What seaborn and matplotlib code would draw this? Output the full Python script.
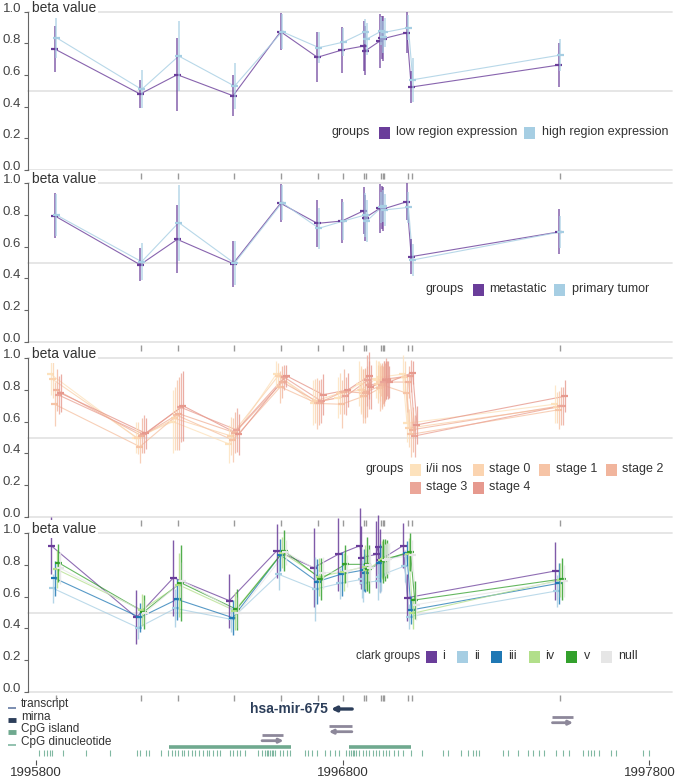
import numpy as np
import pandas as pd
import matplotlib
matplotlib.use("Agg")
import matplotlib.pyplot as plt
import seaborn as sns
from matplotlib.patches import Rectangle

W, H = 676, 780

# genomic positions of the probes (bp)
probe_pos = [1995864, 1996142, 1996263, 1996445, 1996600, 1996720, 1996800, 1996871,
             1996876, 1996924, 1996930, 1996935, 1997012, 1997026, 1997507]

# panel 1: region expression
expr_groups = ["low region expression", "high region expression"]
expr_mean = {
    "low region expression": [0.764, 0.48, 0.602, 0.469, 0.874, 0.712, 0.758, 0.783, 0.752, 0.815, 0.836, 0.83, 0.867, 0.524, 0.663],
    "high region expression": [0.836, 0.509, 0.72, 0.53, 0.874, 0.773, 0.808, 0.874, 0.827, 0.878, 0.842, 0.87, 0.899, 0.57, 0.726],
}
expr_sd = {
    "low region expression": [0.146, 0.09, 0.232, 0.128, 0.115, 0.158, 0.148, 0.158, 0.155, 0.168, 0.136, 0.14, 0.13, 0.1, 0.137],
    "high region expression": [0.126, 0.12, 0.22, 0.145, 0.11, 0.1, 0.09, 0.08, 0.1, 0.09, 0.1, 0.09, 0.08, 0.14, 0.1],
}

# panel 2: sample type
type_groups = ["metastatic", "primary tumor"]
type_mean = {
    "metastatic": [0.794, 0.486, 0.646, 0.493, 0.874, 0.747, 0.762, 0.827, 0.783, 0.842, 0.846, 0.838, 0.884, 0.537, 0.693],
    "primary tumor": [0.8, 0.505, 0.752, 0.495, 0.878, 0.716, 0.762, 0.8, 0.762, 0.848, 0.857, 0.832, 0.848, 0.516, 0.693],
}
type_sd = {
    "metastatic": [0.142, 0.103, 0.214, 0.145, 0.12, 0.15, 0.14, 0.148, 0.145, 0.155, 0.137, 0.14, 0.116, 0.11, 0.142],
    "primary tumor": [0.13, 0.115, 0.24, 0.14, 0.11, 0.13, 0.12, 0.14, 0.135, 0.1, 0.1, 0.1, 0.1, 0.1, 0.1],
}

# panel 3: stage
stage_groups = ["i/ii nos", "stage 0", "stage 1", "stage 2", "stage 3", "stage 4"]
stage_mean = {
    "i/ii nos": [0.9, 0.5, 0.6, 0.46, 0.9, 0.72, 0.75, 0.84, 0.8, 0.87, 0.86, 0.88, 0.9, 0.59, 0.71],
    "stage 0": [0.867, 0.495, 0.62, 0.51, 0.89, 0.73, 0.78, 0.8, 0.78, 0.84, 0.85, 0.86, 0.88, 0.56, 0.69],
    "stage 1": [0.71, 0.442, 0.64, 0.484, 0.82, 0.715, 0.71, 0.76, 0.76, 0.81, 0.82, 0.83, 0.78, 0.52, 0.675],
    "stage 2": [0.8, 0.51, 0.65, 0.53, 0.85, 0.72, 0.79, 0.78, 0.79, 0.83, 0.84, 0.85, 0.85, 0.55, 0.7],
    "stage 3": [0.768, 0.52, 0.69, 0.547, 0.88, 0.73, 0.76, 0.86, 0.83, 0.85, 0.87, 0.87, 0.89, 0.51, 0.7],
    "stage 4": [0.78, 0.526, 0.7, 0.52, 0.89, 0.77, 0.8, 0.89, 0.82, 0.86, 0.86, 0.85, 0.91, 0.58, 0.76],
}
stage_sd = {
    "i/ii nos": [0.13, 0.1, 0.2, 0.12, 0.08, 0.14, 0.13, 0.14, 0.14, 0.12, 0.12, 0.1, 0.12, 0.12, 0.12],
    "stage 0": [0.12, 0.1, 0.2, 0.12, 0.08, 0.14, 0.13, 0.15, 0.15, 0.12, 0.12, 0.1, 0.1, 0.12, 0.1],
    "stage 1": [0.14, 0.1, 0.22, 0.14, 0.1, 0.16, 0.15, 0.17, 0.17, 0.14, 0.14, 0.12, 0.12, 0.14, 0.12],
    "stage 2": [0.13, 0.11, 0.23, 0.13, 0.1, 0.14, 0.14, 0.16, 0.16, 0.14, 0.14, 0.12, 0.1, 0.14, 0.12],
    "stage 3": [0.12, 0.12, 0.22, 0.14, 0.08, 0.14, 0.12, 0.16, 0.15, 0.13, 0.13, 0.11, 0.1, 0.13, 0.12],
    "stage 4": [0.12, 0.1, 0.22, 0.13, 0.07, 0.13, 0.11, 0.15, 0.14, 0.12, 0.12, 0.1, 0.07, 0.12, 0.1],
}

# panel 4: clark level
clark_groups = ["i", "ii", "iii", "iv", "v", "null"]
clark_mean = {
    "i": [0.922, 0.469, 0.72, 0.575, 0.89, 0.783, 0.867, 0.922, 0.846, 0.867, 0.916, 0.83, 0.922, 0.594, 0.762],
    "ii": [0.653, 0.404, 0.526, 0.457, 0.741, 0.648, 0.684, 0.709, 0.688, 0.699, 0.722, 0.737, 0.794, 0.474, 0.636],
    "iii": [0.716, 0.469, 0.583, 0.467, 0.863, 0.695, 0.743, 0.768, 0.752, 0.815, 0.821, 0.827, 0.874, 0.516, 0.684],
    "iv": [0.773, 0.516, 0.674, 0.512, 0.878, 0.726, 0.758, 0.789, 0.768, 0.832, 0.836, 0.842, 0.869, 0.495, 0.705],
    "v": [0.815, 0.503, 0.688, 0.52, 0.89, 0.712, 0.804, 0.804, 0.773, 0.825, 0.832, 0.838, 0.884, 0.579, 0.712],
    "null": [0.78, 0.5, 0.7, 0.5, 0.88, 0.75, 0.76, 0.8, 0.78, 0.83, 0.84, 0.84, 0.86, 0.55, 0.7],
}
clark_sd = {
    "i": [0.18, 0.17, 0.24, 0.17, 0.17, 0.25, 0.23, 0.24, 0.2, 0.21, 0.2, 0.2, 0.14, 0.15, 0.18],
    "ii": [0.09, 0.07, 0.12, 0.08, 0.1, 0.2, 0.1, 0.12, 0.12, 0.12, 0.1, 0.1, 0.1, 0.08, 0.1],
    "iii": [0.11, 0.09, 0.13, 0.11, 0.1, 0.14, 0.14, 0.13, 0.12, 0.12, 0.1, 0.1, 0.08, 0.09, 0.13],
    "iv": [0.12, 0.1, 0.2, 0.12, 0.1, 0.12, 0.12, 0.14, 0.13, 0.12, 0.12, 0.11, 0.1, 0.1, 0.11],
    "v": [0.12, 0.11, 0.24, 0.13, 0.13, 0.13, 0.12, 0.17, 0.15, 0.14, 0.13, 0.12, 0.12, 0.12, 0.13],
    "null": [0.1, 0.08, 0.12, 0.1, 0.08, 0.1, 0.1, 0.1, 0.1, 0.1, 0.1, 0.1, 0.1, 0.1, 0.1],
}

# annotation track
mirna = ("hsa-mir-675", 1996762, 1996831, "-")
transcripts = [(1997484, 1997551, "+"), (1996755, 1996830, "-"), (1996537, 1996607, "+")]
cpg_islands = [(1996234, 1996630), (1996820, 1997023)]
cpg_sites = [1995810, 1995826, 1995836, 1995846, 1995852, 1995888, 1995963, 1996041, 1996129,
             1996139, 1996159, 1996169, 1996208, 1996230, 1996243, 1996253, 1996263, 1996276,
             1996283, 1996296, 1996309, 1996318, 1996332, 1996345, 1996358, 1996364, 1996377,
             1996390, 1996400, 1996433, 1996443, 1996456, 1996465, 1996482, 1996524, 1996537,
             1996547, 1996553, 1996557, 1996563, 1996570, 1996573, 1996579, 1996596, 1996605,
             1996618, 1996628, 1996677, 1996687, 1996700, 1996716, 1996742, 1996759, 1996775,
             1996788, 1996811, 1996821, 1996827, 1996834, 1996837, 1996843, 1996853, 1996866,
             1996876, 1996886, 1996899, 1996909, 1996918, 1996931, 1996941, 1996951, 1996967,
             1996980, 1996997, 1997023, 1997059, 1997127, 1997143, 1997186, 1997209, 1997225,
             1997235, 1997245, 1997323, 1997339, 1997372, 1997404, 1997421, 1997440, 1997456,
             1997496, 1997518, 1997538, 1997584, 1997600, 1997610, 1997619, 1997636, 1997675,
             1997691, 1997779, 1997799]
axis_ticks = [1995800, 1996800, 1997800]

purple, lblue, blue, lgreen, green = "#6a3d9a", "#a6cee3", "#1f78b4", "#b2df8a", "#33a02c"
expr_pal = {"low region expression": purple, "high region expression": lblue}
type_pal = {"metastatic": purple, "primary tumor": lblue}
stage_pal = dict(zip(stage_groups, ["#fde2bd", "#fbd4b0", "#f6c4a6", "#f1b59d", "#eba699", "#e6998e"]))
clark_pal = dict(zip(clark_groups, [purple, lblue, blue, lgreen, green, "#e6e6e6"]))

sns.set_theme(style="white")
plt.rcParams["font.family"] = ["Liberation Sans", "DejaVu Sans"]

BP_PER_PX = 1 / 0.30668
X0 = 1995800 + (28 - 36) * BP_PER_PX
X1 = 1995800 + (672 - 36) * BP_PER_PX

fig = plt.figure(figsize=(W / 100, H / 100), dpi=100)


def panel(y_top, y_bot, groups, means, sds, pal, step, line_alpha, err_alpha, err_lw):
    ax = fig.add_axes([28 / W, 1 - y_bot / H, 644 / W, (y_bot - y_top) / H])
    rows = []
    n = len(groups)
    for gi, g in enumerate(groups):
        off = (gi - (n - 1) / 2) * step * BP_PER_PX
        for p, m, s in zip(probe_pos, means[g], sds[g]):
            rows.append(dict(group=g, pos=p + off, beta=m, lo=m - s, hi=m + s))
    df = pd.DataFrame(rows)
    for v in [0.0, 0.5, 1.0]:
        ax.axhline(v, color="#e4e4e4", lw=1.3, zorder=0, clip_on=False)
    sns.lineplot(data=df, x="pos", y="beta", hue="group", hue_order=groups, palette=pal,
                 estimator=None, sort=True, legend=False, lw=0.8, alpha=line_alpha, ax=ax)
    for g in groups:
        sub = df[df.group == g]
        ax.vlines(sub.pos, sub.lo, sub.hi, color=pal[g], lw=err_lw, alpha=err_alpha, clip_on=False)
        ax.hlines(sub.beta, sub.pos - 3.5 * BP_PER_PX, sub.pos + 3.5 * BP_PER_PX, color=pal[g],
                  lw=1.6, clip_on=False)
    # probe markers under the panel
    ax.vlines(probe_pos, -0.02, -0.056, color="#9a9a9a", lw=1, clip_on=False,
              transform=ax.get_xaxis_transform())
    ax.set_xlim(X0, X1)
    ax.set_ylim(0, 1)
    ticks = np.arange(0, 1.01, 0.2)
    ax.set_yticks(ticks)
    ax.set_yticklabels([f"{t:.1f}" for t in ticks], fontsize=9.5, color="#444")
    for lab in ax.get_yticklabels():
        lab.set_va("baseline")
    ax.tick_params(axis="y", left=True, length=3, width=0.8, color="#666", pad=2)
    ax.set_xticks([])
    ax.set_xlabel("")
    ax.set_ylabel("")
    for sp in ["top", "right", "bottom"]:
        ax.spines[sp].set_visible(False)
    ax.spines["left"].set_color("#666")
    ax.spines["left"].set_linewidth(0.8)
    ax.patch.set_alpha(0)
    ax.text(0.006, 1.0, "beta value", transform=ax.get_yaxis_transform(), fontsize=10,
            color="#333", va="baseline", ha="left",
            bbox=dict(fc="white", ec="none", pad=1.5))
    return ax


panel(11.7, 170, expr_groups, expr_mean, expr_sd, expr_pal, 1.5, 0.8, 0.75, 1.2)
panel(183.3, 341.7, type_groups, type_mean, type_sd, type_pal, 1.5, 0.8, 0.75, 1.2)
panel(358.3, 516.7, stage_groups, stage_mean, stage_sd, stage_pal, 2.0, 0.8, 0.8, 0.9)
panel(533.3, 691.7, clark_groups, clark_mean, clark_sd, clark_pal, 1.8, 0.75, 0.85, 1.0)

# annotation track
tr = fig.add_axes([28 / W, 0, 644 / W, 82 / H])
tr.set_xlim(X0, X1)
tr.set_ylim(780, 698)
tr.axis("off")
gray = "#8d889a"
navy = "#2c3e5a"
name, ms, me, mstrand = mirna
tr.annotate("", xy=(ms, 709), xytext=(me, 709),
            arrowprops=dict(arrowstyle="-|>", lw=2.4, color=navy, mutation_scale=7,
                            shrinkA=0, shrinkB=0))
tr.text(ms - 3 * BP_PER_PX, 709, name, fontsize=10, fontweight="bold", color=navy,
        ha="right", va="center")
for row, (s, e, strand) in zip([717, 726, 735], transcripts):
    tr.hlines(row, s, e, color=gray, lw=2.0)
    a, b = (s, e) if strand == "+" else (e, s)
    tr.annotate("", xy=(b, row + 5.7), xytext=(a, row + 5.7),
                arrowprops=dict(arrowstyle="-|>", lw=2.0, color=gray, mutation_scale=6,
                                shrinkA=0, shrinkB=0))
for s, e in cpg_islands:
    tr.hlines(746.7, s, e, color="#6fa98f", lw=2.6)
tr.vlines(cpg_sites, 750, 756, color="#80b8a2", lw=0.8)
tr.vlines(axis_ticks, 760, 764.5, color="#555", lw=0.8)
for t in axis_ticks:
    tr.text(t, 772.5, str(t), fontsize=9.5, color="#333", ha="center", va="center",
            clip_on=False)

# overlay in pixel coordinates for legends
ov = fig.add_axes([0, 0, 1, 1])
ov.set_xlim(0, W)
ov.set_ylim(H, 0)
ov.axis("off")


def legend(title, tx, ty, items, pal, title_size=9):
    ov.text(tx, ty, title, fontsize=title_size, color="#333", ha="left", va="center")
    for g, sx, lx, y in items:
        ov.add_patch(Rectangle((sx, y - 5.5), 11, 12, color=pal[g], lw=0))
        ov.text(lx, y, g, fontsize=9, color="#333", ha="left", va="center")


legend("groups", 332, 132.3,
       [("low region expression", 378.6, 396, 132.3),
        ("high region expression", 523.5, 542, 132.3)], expr_pal)
legend("groups", 426, 289.3,
       [("metastatic", 472.5, 489, 289.3), ("primary tumor", 553.8, 572.4, 289.3)], type_pal)
legend("groups", 365.6, 469.3,
       [("i/ii nos", 410.2, 426.2, 469.3), ("stage 0", 473, 489, 469.3),
        ("stage 1", 538.7, 556, 469.3), ("stage 2", 605.7, 621.7, 469.3),
        ("stage 3", 410.2, 426.2, 487.3), ("stage 4", 473, 489, 487.3)], stage_pal)
legend("clark groups", 356, 656,
       [("i", 426.2, 442.6, 656), ("ii", 456.5, 473.8, 656), ("iii", 491.1, 508.4, 656),
        ("iv", 529.2, 545.2, 656), ("v", 565.9, 584.1, 656), ("null", 601.4, 617.8, 656)],
       clark_pal, title_size=8.5)

# track legend
track_items = [("transcript", 704.5, "#7b8db0", 1.4), ("mirna", 716.5, navy, 3.5),
               ("CpG island", 729, "#6fa98f", 3.5), ("CpG dinucleotide", 741.5, "#80b8a2", 1.2)]
for lab, y, c, lw in track_items:
    ov.plot([7.5, 16], [y + 3, y + 3], color=c, lw=lw, solid_capstyle="butt")
    ov.text(21, y, lab, fontsize=8.5, color="#333", ha="left", va="center")

fig.savefig("out.png", dpi=100)
